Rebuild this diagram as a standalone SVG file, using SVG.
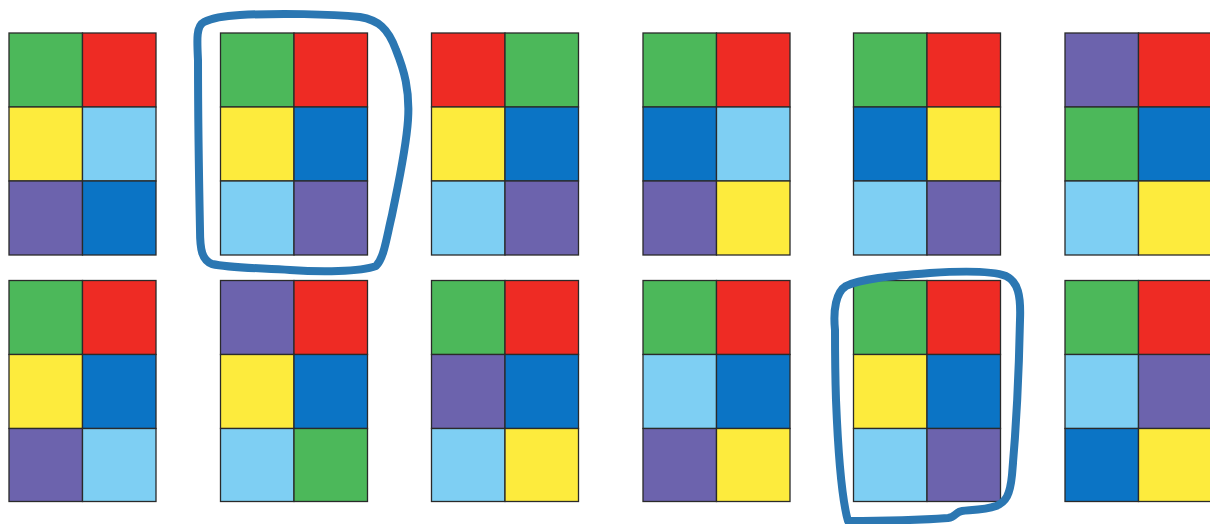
<svg xmlns="http://www.w3.org/2000/svg" width="1210" height="524" viewBox="0 0 1210 524">
<style>
.g{fill:#4cb85a}.r{fill:#ee2b24}.y{fill:#fdeb3d}.l{fill:#7ecff3}.p{fill:#6c63ad}.b{fill:#0b74c5}
.c rect{stroke:#2a2a2a;stroke-width:1.3}
.o{fill:none;stroke:#2b77b2;stroke-width:8;stroke-linecap:round;stroke-linejoin:round}
</style>
<rect width="1210" height="524" fill="#ffffff"/>
<g id="grid-top-1" class="c" transform="translate(9,33)">
<rect class="g" x="0" y="0" width="73.5" height="74"/><rect class="r" x="73.5" y="0" width="73.5" height="74"/>
<rect class="y" x="0" y="74" width="73.5" height="74"/><rect class="l" x="73.5" y="74" width="73.5" height="74"/>
<rect class="p" x="0" y="148" width="73.5" height="74"/><rect class="b" x="73.5" y="148" width="73.5" height="74"/>
</g>
<g id="grid-top-2" class="c" transform="translate(220.5,33)">
<rect class="g" x="0" y="0" width="73.5" height="74"/><rect class="r" x="73.5" y="0" width="73.5" height="74"/>
<rect class="y" x="0" y="74" width="73.5" height="74"/><rect class="b" x="73.5" y="74" width="73.5" height="74"/>
<rect class="l" x="0" y="148" width="73.5" height="74"/><rect class="p" x="73.5" y="148" width="73.5" height="74"/>
</g>
<g id="grid-top-3" class="c" transform="translate(431.5,33)">
<rect class="r" x="0" y="0" width="73.5" height="74"/><rect class="g" x="73.5" y="0" width="73.5" height="74"/>
<rect class="y" x="0" y="74" width="73.5" height="74"/><rect class="b" x="73.5" y="74" width="73.5" height="74"/>
<rect class="l" x="0" y="148" width="73.5" height="74"/><rect class="p" x="73.5" y="148" width="73.5" height="74"/>
</g>
<g id="grid-top-4" class="c" transform="translate(643,33)">
<rect class="g" x="0" y="0" width="73.5" height="74"/><rect class="r" x="73.5" y="0" width="73.5" height="74"/>
<rect class="b" x="0" y="74" width="73.5" height="74"/><rect class="l" x="73.5" y="74" width="73.5" height="74"/>
<rect class="p" x="0" y="148" width="73.5" height="74"/><rect class="y" x="73.5" y="148" width="73.5" height="74"/>
</g>
<g id="grid-top-5" class="c" transform="translate(853.5,33)">
<rect class="g" x="0" y="0" width="73.5" height="74"/><rect class="r" x="73.5" y="0" width="73.5" height="74"/>
<rect class="b" x="0" y="74" width="73.5" height="74"/><rect class="y" x="73.5" y="74" width="73.5" height="74"/>
<rect class="l" x="0" y="148" width="73.5" height="74"/><rect class="p" x="73.5" y="148" width="73.5" height="74"/>
</g>
<g id="grid-top-6" class="c" transform="translate(1065,33)">
<rect class="p" x="0" y="0" width="73.5" height="74"/><rect class="r" x="73.5" y="0" width="73.5" height="74"/>
<rect class="g" x="0" y="74" width="73.5" height="74"/><rect class="b" x="73.5" y="74" width="73.5" height="74"/>
<rect class="l" x="0" y="148" width="73.5" height="74"/><rect class="y" x="73.5" y="148" width="73.5" height="74"/>
</g>
<g id="grid-bottom-1" class="c" transform="translate(9,280.5)">
<rect class="g" x="0" y="0" width="73.5" height="74"/><rect class="r" x="73.5" y="0" width="73.5" height="74"/>
<rect class="y" x="0" y="74" width="73.5" height="74"/><rect class="b" x="73.5" y="74" width="73.5" height="74"/>
<rect class="p" x="0" y="148" width="73.5" height="73"/><rect class="l" x="73.5" y="148" width="73.5" height="73"/>
</g>
<g id="grid-bottom-2" class="c" transform="translate(220.5,280.5)">
<rect class="p" x="0" y="0" width="73.5" height="74"/><rect class="r" x="73.5" y="0" width="73.5" height="74"/>
<rect class="y" x="0" y="74" width="73.5" height="74"/><rect class="b" x="73.5" y="74" width="73.5" height="74"/>
<rect class="l" x="0" y="148" width="73.5" height="73"/><rect class="g" x="73.5" y="148" width="73.5" height="73"/>
</g>
<g id="grid-bottom-3" class="c" transform="translate(431.5,280.5)">
<rect class="g" x="0" y="0" width="73.5" height="74"/><rect class="r" x="73.5" y="0" width="73.5" height="74"/>
<rect class="p" x="0" y="74" width="73.5" height="74"/><rect class="b" x="73.5" y="74" width="73.5" height="74"/>
<rect class="l" x="0" y="148" width="73.5" height="73"/><rect class="y" x="73.5" y="148" width="73.5" height="73"/>
</g>
<g id="grid-bottom-4" class="c" transform="translate(643,280.5)">
<rect class="g" x="0" y="0" width="73.5" height="74"/><rect class="r" x="73.5" y="0" width="73.5" height="74"/>
<rect class="l" x="0" y="74" width="73.5" height="74"/><rect class="b" x="73.5" y="74" width="73.5" height="74"/>
<rect class="p" x="0" y="148" width="73.5" height="73"/><rect class="y" x="73.5" y="148" width="73.5" height="73"/>
</g>
<g id="grid-bottom-5" class="c" transform="translate(853.5,280.5)">
<rect class="g" x="0" y="0" width="73.5" height="74"/><rect class="r" x="73.5" y="0" width="73.5" height="74"/>
<rect class="y" x="0" y="74" width="73.5" height="74"/><rect class="b" x="73.5" y="74" width="73.5" height="74"/>
<rect class="l" x="0" y="148" width="73.5" height="73"/><rect class="p" x="73.5" y="148" width="73.5" height="73"/>
</g>
<g id="grid-bottom-6" class="c" transform="translate(1065,280.5)">
<rect class="g" x="0" y="0" width="73.5" height="74"/><rect class="r" x="73.5" y="0" width="73.5" height="74"/>
<rect class="l" x="0" y="74" width="73.5" height="74"/><rect class="p" x="73.5" y="74" width="73.5" height="74"/>
<rect class="b" x="0" y="148" width="73.5" height="73"/><rect class="y" x="73.5" y="148" width="73.5" height="73"/>
</g>
<g id="marks">
<path class="o" d="M198,60 C197,40 196,26 204,22 C212,18 222,16 240,15 C280,13 330,14 360,17 C378,20 388,28 396,50 C404,70 410,90 408,120 C406,150 398,185 392,215 C386,240 384,258 376,266 C360,272 320,272 290,270 C260,268 230,268 212,264 C202,260 200,250 200,230 C199,180 198,120 198,60 Z"/>
<path class="o" d="M835,330 C833,310 836,292 846,286 C860,279 890,276 930,273 C960,271 990,270 1006,276 C1018,282 1021,295 1020,320 C1019,370 1016,430 1012,475 C1010,495 1006,502 996,506 C985,510 970,510 962,511 C955,512 956,517 948,518 C920,520 880,521 848,521 C842,500 838,450 836,400 C835,370 835,350 835,330 Z"/>
</g>
</svg>
